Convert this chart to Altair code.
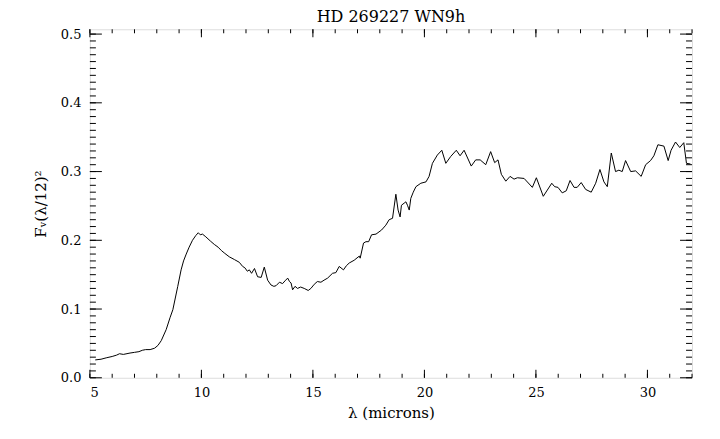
import altair as alt
import pandas as pd

# Spectrum
lam = [5.24, 5.5, 5.73, 6.0, 6.2, 6.33, 6.5, 6.8, 7.0, 7.2, 7.35, 7.5, 7.7, 7.9, 8.05,
       8.2, 8.42, 8.6, 8.72, 8.94, 9.09, 9.2, 9.32, 9.45, 9.6, 9.75, 9.86, 9.95, 10.05,
       10.2, 10.4, 10.58, 10.75, 10.9, 11.05, 11.25, 11.48, 11.7, 11.85, 11.95, 12.06,
       12.15, 12.25, 12.38, 12.52, 12.68, 12.82, 12.97, 13.12, 13.25, 13.35, 13.5, 13.64,
       13.75, 13.87, 13.95, 14.02, 14.09, 14.2, 14.31, 14.45, 14.61, 14.79, 14.91, 15.06,
       15.2, 15.36, 15.5, 15.66, 15.88, 16.03, 16.18, 16.37, 16.5, 16.63, 16.85, 17.08,
       17.12, 17.27, 17.38, 17.5, 17.63, 17.83, 18.08, 18.27, 18.42, 18.57, 18.72, 18.82,
       18.91, 18.97, 19.09, 19.17, 19.24, 19.32, 19.39, 19.5, 19.62, 19.84, 20.07, 20.21,
       20.36, 20.58, 20.78, 20.96, 21.18, 21.43, 21.6, 21.78, 22.1, 22.3, 22.5, 22.75,
       22.97, 23.15, 23.3, 23.45, 23.65, 23.84, 24.02, 24.17, 24.47, 24.84, 25.02, 25.33,
       25.71, 25.84, 25.99, 26.18, 26.36, 26.53, 26.71, 26.85, 27.03, 27.23, 27.48, 27.68,
       27.87, 28.05, 28.2, 28.38, 28.57, 28.72, 28.87, 29.02, 29.25, 29.47, 29.72, 29.92,
       30.14, 30.29, 30.47, 30.74, 30.93, 31.06, 31.26, 31.45, 31.63, 31.75, 31.93]
flux = [0.026, 0.027, 0.029, 0.031, 0.033, 0.035, 0.034, 0.036, 0.037, 0.038, 0.040, 0.041,
        0.041, 0.043, 0.047, 0.054, 0.070, 0.088, 0.099, 0.133, 0.157, 0.170, 0.180, 0.190,
        0.200, 0.207, 0.211, 0.208, 0.209, 0.205, 0.199, 0.194, 0.190, 0.185, 0.181, 0.176,
        0.172, 0.168, 0.162, 0.160, 0.155, 0.157, 0.152, 0.159, 0.147, 0.146, 0.161, 0.142,
        0.135, 0.133, 0.134, 0.139, 0.137, 0.141, 0.145, 0.140, 0.138, 0.128, 0.133, 0.130,
        0.132, 0.130, 0.127, 0.130, 0.136, 0.140, 0.139, 0.142, 0.145, 0.152, 0.153, 0.162,
        0.157, 0.163, 0.167, 0.171, 0.177, 0.174, 0.196, 0.198, 0.198, 0.208, 0.209, 0.215,
        0.222, 0.230, 0.232, 0.267, 0.244, 0.234, 0.251, 0.254, 0.256, 0.251, 0.244, 0.261,
        0.270, 0.278, 0.283, 0.285, 0.293, 0.312, 0.324, 0.331, 0.312, 0.322, 0.331, 0.323,
        0.331, 0.308, 0.317, 0.317, 0.310, 0.329, 0.313, 0.317, 0.296, 0.286, 0.293, 0.289,
        0.291, 0.290, 0.277, 0.291, 0.264, 0.283, 0.278, 0.277, 0.269, 0.272, 0.287, 0.277,
        0.277, 0.284, 0.274, 0.270, 0.283, 0.303, 0.285, 0.278, 0.327, 0.300, 0.302, 0.300,
        0.316, 0.300, 0.301, 0.293, 0.310, 0.316, 0.323, 0.339, 0.337, 0.316, 0.331, 0.343,
        0.335, 0.342, 0.312, 0.311]

x_major = [5, 10, 15, 20, 25, 30]
x_minor = list(range(5, 33))
y_major = [0.0, 0.1, 0.2, 0.3, 0.4, 0.5]
y_minor = [round(i * 0.01, 2) for i in range(0, 51)]

W, H = 603, 349
FONT = "DejaVu Serif"
x_scale = alt.Scale(domain=[5, 32], nice=False, zero=False)
y_scale = alt.Scale(domain=[0, 0.507], nice=False, zero=False)

df = pd.DataFrame({"lam": lam, "flux": flux})

line = alt.Chart(df).mark_line(color="black", strokeWidth=1, clip=True).encode(
    x=alt.X("lam:Q", scale=x_scale,
            axis=alt.Axis(values=x_major, format="d", ticks=False, domain=False, grid=False,
                          labelFont=FONT, labelFontSize=13, labelColor="black", labelPadding=9,
                          title="λ (microns)", titleFont=FONT, titleFontSize=15,
                          titleFontWeight="normal", titleColor="black", titlePadding=6)),
    y=alt.Y("flux:Q", scale=y_scale,
            axis=alt.Axis(values=y_major, format=".1f", ticks=False, domain=False, grid=False,
                          labelFont=FONT, labelFontSize=13, labelColor="black", labelPadding=9,
                          title="Fᵥ(λ/12)²", titleFont=FONT, titleFontSize=15,
                          titleFontWeight="normal", titleColor="black", titlePadding=12)),
    order="lam:Q",
)

def xticks(vals, length):
    d = pd.DataFrame({"lam": vals})
    bottom = alt.Chart(d).mark_rule(color="black", strokeWidth=1).encode(
        x=alt.X("lam:Q", scale=x_scale),
        y=alt.value(H), y2=alt.value(H - length))
    top = alt.Chart(d).mark_rule(color="black", strokeWidth=1).encode(
        x=alt.X("lam:Q", scale=x_scale),
        y=alt.value(0), y2=alt.value(length))
    return [bottom, top]

def yticks(vals, length):
    d = pd.DataFrame({"flux": vals})
    left = alt.Chart(d).mark_rule(color="black", strokeWidth=1).encode(
        y=alt.Y("flux:Q", scale=y_scale),
        x=alt.value(0), x2=alt.value(length))
    right = alt.Chart(d).mark_rule(color="black", strokeWidth=1).encode(
        y=alt.Y("flux:Q", scale=y_scale),
        x=alt.value(W), x2=alt.value(W - length))
    return [left, right]

layers = [line] + xticks(x_major, 8) + xticks(x_minor, 4) + yticks(y_major, 12) + yticks(y_minor, 6)

chart = alt.layer(*layers).properties(
    width=W, height=H,
    title=alt.Title("HD 269227 WN9h", font=FONT, fontSize=16, fontWeight="normal",
                    color="black", anchor="middle", offset=3),
    autosize=alt.AutoSizeParams(type="none"),
    padding={"left": 82, "top": 21, "right": 20, "bottom": 60},
).configure_view(stroke="black", strokeWidth=1).configure(background="white")

chart.save("out.html", embed_options={"renderer": "svg", "actions": False})
